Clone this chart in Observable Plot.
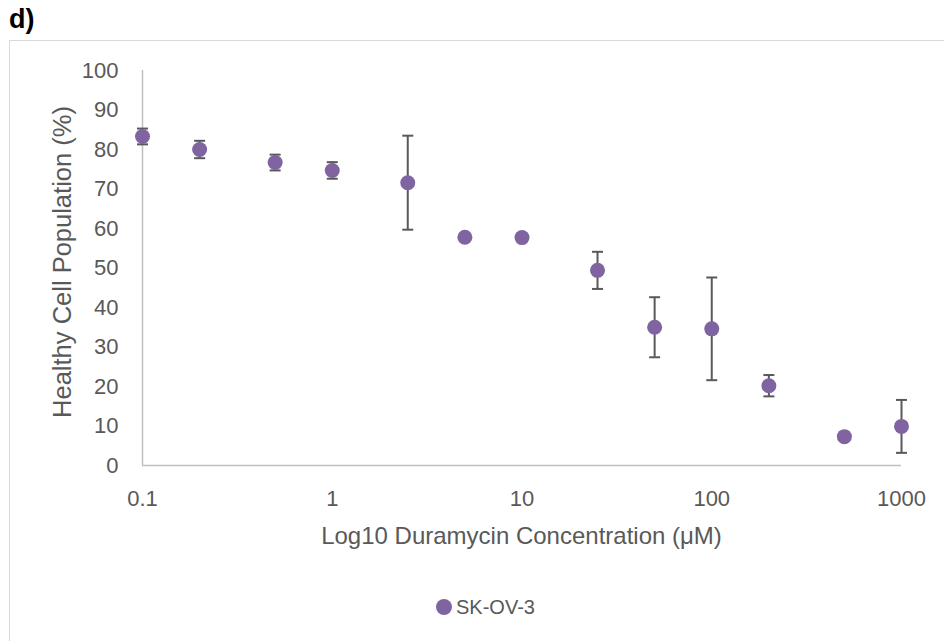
<!DOCTYPE html>
<html>
<head>
<meta charset="utf-8">
<script src="https://cdn.jsdelivr.net/npm/d3@7"></script>
<script src="https://cdn.jsdelivr.net/npm/@observablehq/plot@0.6"></script>
<style>
  body { margin: 0; background: #fff; font-family: "Liberation Sans", Arial, sans-serif; }
  #wrap { position: relative; width: 944px; height: 641px; overflow: hidden; }
  #frame { position: absolute; left: 9px; top: 40px; width: 960px; height: 700px;
           border-left: 1px solid #d9d9d9; border-top: 1px solid #d9d9d9; }
  #panel { position: absolute; left: 9px; top: 6px; font-weight: bold; font-size: 27px; line-height: 1; color: #000; }
  #chart { position: absolute; left: 0; top: 0; }
  #xtitle { position: absolute; left: 142px; width: 759px; top: 524px; text-align: center;
            font-size: 24px; line-height: 1; color: #595959; white-space: nowrap; }
  #ytitle { position: absolute; left: 63px; top: 262px; transform: translate(-50%, -50%) rotate(-90deg);
            white-space: nowrap; font-size: 25.5px; line-height: 1; color: #595959; }
  #legend { position: absolute; left: 436px; top: 597px; font-size: 20px; line-height: 1; color: #595959; white-space: nowrap; }
  #legend .sw { display: inline-block; width: 16px; height: 16px; border-radius: 50%; vertical-align: -1px; margin-right: 4px; }
</style>
</head>
<body>
<div id="wrap">
  <div id="frame"></div>
  <div id="panel">d)</div>
  <div id="chart"></div>
  <div id="xtitle">Log10 Duramycin Concentration (μM)</div>
  <div id="ytitle">Healthy Cell Population (%)</div>
  <div id="legend"></div>
</div>
<script>
const seriesName = "SK-OV-3";
const concentrations = [0.1, 0.2, 0.5, 1, 2.5, 5, 10, 25, 50, 100, 200, 500, 1000];
const population = [83.3, 80.0, 76.7, 74.7, 71.6, 57.8, 57.7, 49.4, 35.0, 34.6, 20.2, 7.3, 9.9];
const errors = [2.0, 2.2, 2.0, 2.1, 11.9, 0, 0, 4.7, 7.6, 13.0, 2.7, 0, 6.7];
const xTicks = [0.1, 1, 10, 100, 1000];
const yTicks = [0, 10, 20, 30, 40, 50, 60, 70, 80, 90, 100];
const color = "#8064a2";
const errColor = "#595959";
const axisColor = "#bfbfbf";
const textColor = "#595959";

const data = concentrations.map((c, i) => ({c, v: population[i], e: errors[i]}));
const errData = data.filter(d => d.e > 0);

const capSymbol = {
  draw(context, size) {
    const w = Math.sqrt(size / Math.PI);
    context.moveTo(-w, 0);
    context.lineTo(w, 0);
  }
};

const plot = Plot.plot({
  width: 944,
  height: 560,
  marginLeft: 142,
  marginRight: 43,
  marginTop: 70,
  marginBottom: 95,
  style: {fontFamily: "'Liberation Sans', Arial, sans-serif", fontSize: "22px", color: textColor, background: "transparent"},
  x: {type: "log", domain: [0.1, 1000]},
  y: {domain: [0, 100]},
  marks: [
    Plot.axisX({ticks: xTicks, tickFormat: d => String(d), tickSize: 0, tickPadding: 25, label: null, fill: textColor}),
    Plot.axisY({ticks: yTicks, tickSize: 0, tickPadding: 24, label: null, fill: textColor}),
    Plot.ruleX([0.1], {y1: 0, y2: 100, stroke: axisColor, strokeWidth: 1.5}),
    Plot.ruleY([0], {x1: 0.1, x2: 1000, stroke: axisColor, strokeWidth: 1.5}),
    Plot.ruleX(errData, {x: "c", y1: d => d.v - d.e, y2: d => d.v + d.e, stroke: errColor, strokeWidth: 2}),
    Plot.dot(errData, {x: "c", y: d => d.v + d.e, symbol: capSymbol, r: 5.5, stroke: errColor, strokeWidth: 2}),
    Plot.dot(errData, {x: "c", y: d => d.v - d.e, symbol: capSymbol, r: 5.5, stroke: errColor, strokeWidth: 2}),
    Plot.dot(data, {x: "c", y: "v", r: 7.5, fill: color, stroke: "none"})
  ]
});
document.getElementById("chart").appendChild(plot);

const legend = document.getElementById("legend");
const sw = document.createElement("span");
sw.className = "sw";
sw.style.background = color;
legend.appendChild(sw);
legend.appendChild(document.createTextNode(seriesName));
</script>
</body>
</html>
